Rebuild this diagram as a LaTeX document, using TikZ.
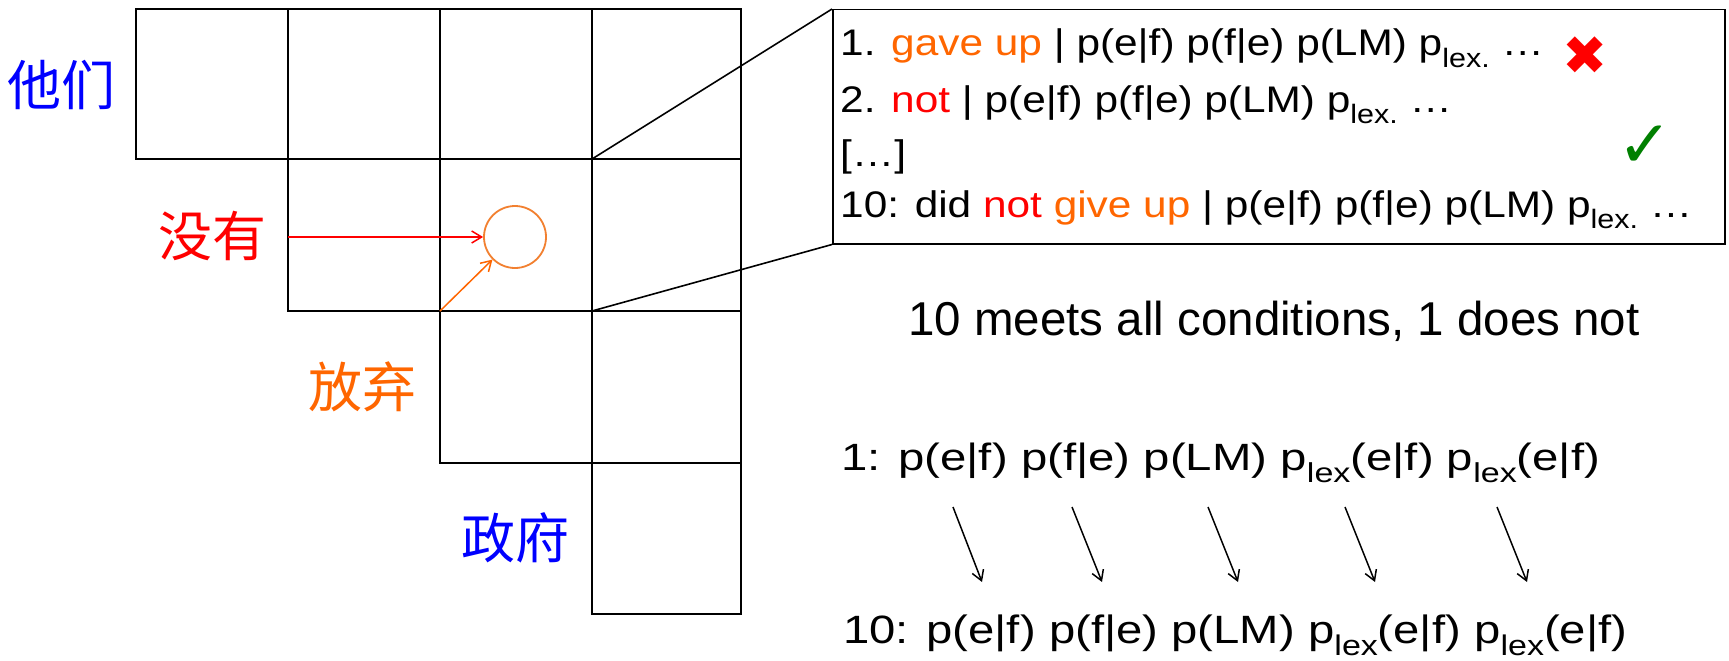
\documentclass[tikz,border=0pt]{standalone}
\usepackage{fontspec}
\usepackage{graphicx}
\setmainfont{Liberation Sans}
\newfontfamily\cjk{Noto Sans CJK SC}
\newfontfamily\symfont{DejaVu Sans}
\usetikzlibrary{arrows.meta}
\definecolor{cjkblue}{RGB}{0,0,255}
\definecolor{myred}{RGB}{255,0,0}
\definecolor{myorange}{RGB}{255,102,0}
\definecolor{circorange}{RGB}{242,128,48}
\definecolor{mygreen}{RGB}{0,128,0}
\newcommand\lsub[1]{\raisebox{-0.3em}{\scalebox{0.72}{#1}}}
\newcommand\plex{p\lsub{lex}}
\begin{document}
\begin{tikzpicture}[x=1pt,y=-1pt,
  gridline/.style={line width=2pt},
  cjklabel/.style={font=\cjk\fontsize{54}{60}\selectfont, inner sep=0},
  boxtext/.style={anchor=base west, inner sep=0, font=\fontsize{37}{44}\selectfont},
  plaintext/.style={anchor=base west, inner sep=0},
  barb/.style={-{Straight Barb[length=10pt,width=12pt]}, line width=1.5pt},
  link/.style={line width=1.6pt},
]
\useasboundingbox (0,0) rectangle (1729,661);
\fill[white] (0,0) rectangle (1729,661);

% grid of cells
\draw[gridline] (136,9) rectangle (288,159);
\draw[gridline] (288,9) rectangle (440,159);
\draw[gridline] (440,9) rectangle (592,159);
\draw[gridline] (592,9) rectangle (741,159);
\draw[gridline] (288,159) rectangle (440,311);
\draw[gridline] (440,159) rectangle (592,311);
\draw[gridline] (592,159) rectangle (741,311);
\draw[gridline] (440,311) rectangle (592,463);
\draw[gridline] (592,311) rectangle (741,463);
\draw[gridline] (592,463) rectangle (741,614);

% Chinese labels
\node[cjklabel, text=cjkblue] (w1) at (61,85) {他们};
\node[cjklabel, text=myred] (w2) at (212,236) {没有};
\node[cjklabel, text=myorange] (w3) at (362,387) {放弃};
\node[cjklabel, text=cjkblue] (w4) at (515,538) {政府};

% circle and arrows into it
\node[draw=circorange, circle, minimum size=62pt, inner sep=0, line width=1.8pt] (circ) at (515,237) {};
\coordinate (rs) at (288,237);
\coordinate (os) at (440,311);
\draw[barb, myred] (rs) -- (circ.west);
\draw[barb, myorange] (os) -- (circ.225);

% candidate box
\node[draw, line width=1.5pt, minimum width=892pt, minimum height=234pt, inner sep=0, anchor=north west] (box) at (832,9) {};
\coordinate (g1) at (592,159);
\coordinate (g2) at (592,311);
\draw[link] (g1) -- (box.north west);
\draw[link] (g2) -- (box.south west);

\node[boxtext] (l1) at (840,56) {\scalebox{1.145}[1]{1. \textcolor{myorange}{gave up} | p(e|f) p(f|e) p(LM) p\lsub{lex.} …}};
\node[boxtext] (l2) at (840,112) {\scalebox{1.145}[1]{2. \textcolor{myred}{not} | p(e|f) p(f|e) p(LM) p\lsub{lex.} …}};
\node[boxtext] (l3) at (840,166) {\scalebox{1.145}[1]{[…]}};
\node[boxtext] (l4) at (840,217) {\scalebox{1.145}[1]{10: did \textcolor{myred}{not} \textcolor{myorange}{give up} | p(e|f) p(f|e) p(LM) p\lsub{lex.} …}};
\node[font=\symfont\fontsize{54}{54}\selectfont, text=myred, inner sep=0] (cross) at (1585,56) {✖};
\node[font=\symfont\fontsize{66}{66}\selectfont, text=mygreen, inner sep=0] (check) at (1645,147) {✓};

% conclusion
\node[plaintext, font=\fontsize{47.5}{57}\selectfont] (cond) at (908,335) {10 meets all conditions, 1 does not};

% feature comparison
\node[plaintext, font=\fontsize{38}{45}\selectfont] (top1) at (841,470.7) {\resizebox{759pt}{\height}{1: p(e|f) p(f|e) p(LM) \plex(e|f) \plex(e|f)}};
\node[plaintext, font=\fontsize{39.5}{47}\selectfont] (bot10) at (843,643.3) {\resizebox{784pt}{\height}{10: p(e|f) p(f|e) p(LM) \plex(e|f) \plex(e|f)}};

\coordinate (a1s) at (953,507);  \coordinate (a1e) at (982,582);
\coordinate (a2s) at (1072,507); \coordinate (a2e) at (1102,582);
\coordinate (a3s) at (1208,507); \coordinate (a3e) at (1238,582);
\coordinate (a4s) at (1345,507); \coordinate (a4e) at (1375,582);
\coordinate (a5s) at (1497,507); \coordinate (a5e) at (1527,582);
\foreach \i in {1,...,5} {
  \draw[-{Straight Barb[length=10pt,width=12pt]}, line width=1.5pt] (a\i s) -- (a\i e);
}
\end{tikzpicture}
\end{document}
